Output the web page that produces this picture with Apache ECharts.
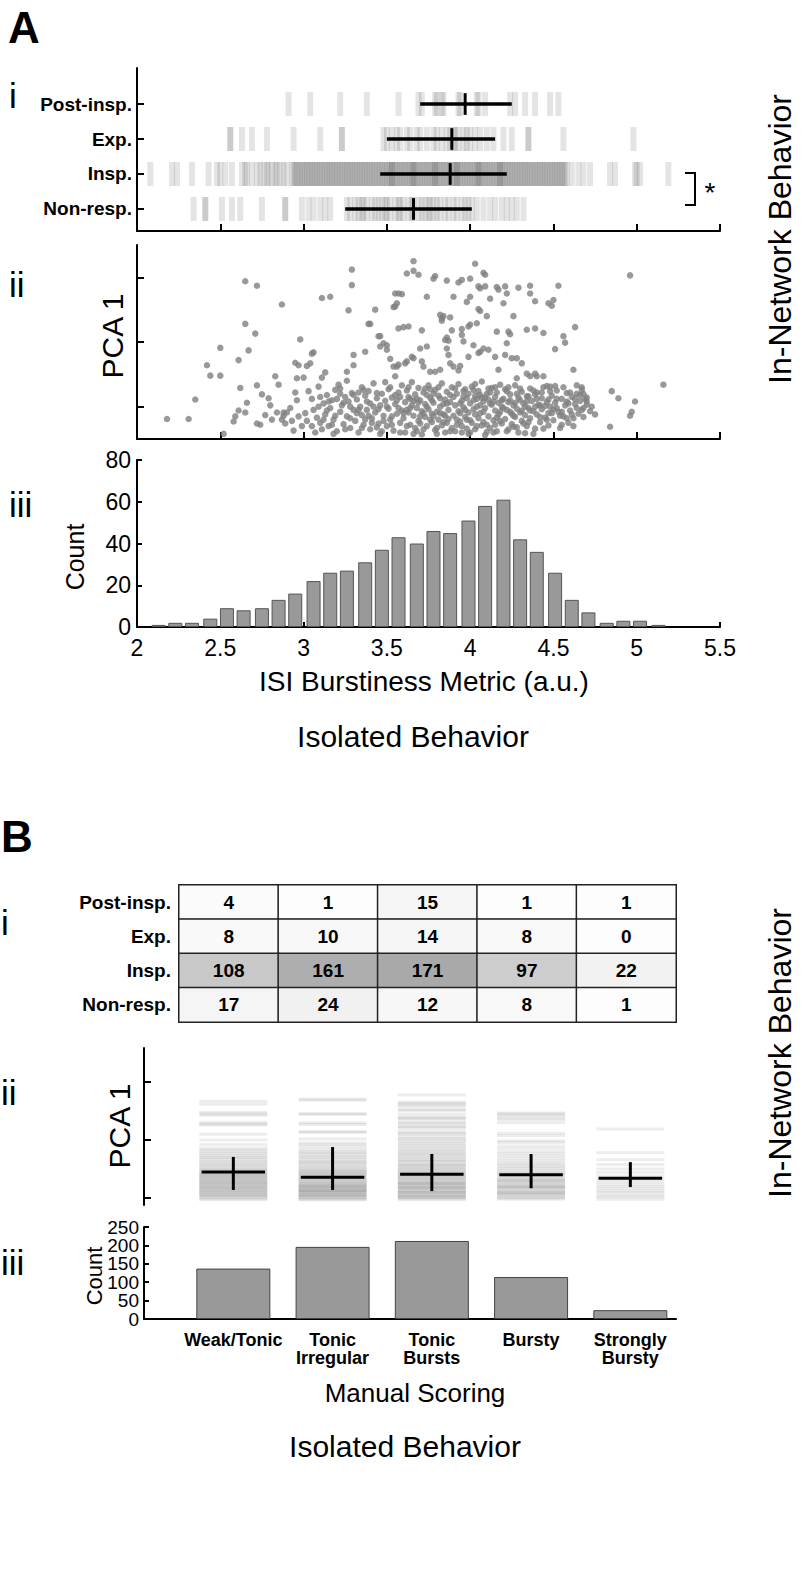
<!DOCTYPE html>
<html><head><meta charset="utf-8">
<script src="https://cdn.jsdelivr.net/npm/echarts@6.0.0/dist/echarts.min.js"></script>
<style>html,body{margin:0;padding:0;background:#fff}#c{width:802px;height:1588px}</style>
</head><body><div id="c"></div>
<script>
// ================= DATA =================
const rasterRows = ['Post-insp.', 'Exp.', 'Insp.', 'Non-resp.'];
const postInsp = [2.91,3.04,3.22,3.38,3.57,3.69,3.71,3.79,3.80,3.83,3.84,3.93,3.94,4.04,4.05,4.09,4.24,4.27,4.33,4.39,4.48,4.53];
const expir = [2.56,2.56,2.63,2.69,2.78,2.94,3.10,3.23,3.23,3.48,3.50,3.53,3.56,3.58,3.62,3.64,3.68,3.70,3.74,3.78,3.80,3.83,3.86,3.88,3.90,3.91,3.93,3.96,3.98,4.00,4.03,4.06,4.10,4.14,4.20,4.25,4.35,4.35,4.56,4.98];
const insp = [2.08,2.21,2.24,2.33,2.43,2.48,2.50,2.53,2.57,2.63,2.66,2.69,2.72,2.74,2.76,2.79,2.81,2.83,2.86,2.88,2.90,
2.93,2.95,2.96,2.98,3.00,3.01,3.03,3.05,3.06,3.08,3.09,3.11,3.13,3.14,3.16,3.18,3.19,3.21,3.22,3.24,3.26,3.27,3.29,3.30,3.32,3.34,3.35,3.37,3.38,3.40,3.41,3.43,3.45,3.46,3.48,3.49,3.51,3.52,3.54,3.56,3.57,3.59,3.60,3.62,3.63,3.65,3.66,3.68,3.70,3.71,3.73,3.74,3.76,3.77,3.79,3.80,3.82,3.84,3.85,3.87,3.88,3.90,3.91,3.93,3.94,3.96,3.98,3.99,4.01,4.02,4.04,4.05,4.07,4.08,4.10,4.12,4.13,4.15,4.16,4.18,4.19,4.21,4.23,4.24,4.26,4.27,4.29,4.31,4.32,4.34,4.35,4.37,4.39,4.40,4.42,4.44,4.45,4.47,4.49,4.50,4.52,4.54,4.56,4.58,4.61,4.65,4.68,4.72,4.84,4.87,4.99,5.00,5.02,5.19,
2.94,2.97,2.99,3.02,3.04,3.07,3.10,3.12,3.15,3.17,3.20,3.23,3.25,3.28,3.31,3.33,3.36,3.39,3.42,3.44,3.47,3.50,3.53,3.55,3.58,3.61,3.64,3.67,3.69,3.72,3.75,3.78,3.81,3.83,3.86,3.89,3.92,3.95,3.97,4.00,4.03,4.06,4.09,4.11,4.14,4.17,4.20,4.22,4.25,4.28,4.30,4.33,4.36,4.38,4.41,4.43,4.46,4.48,4.51,4.53,4.55,4.57,3.53,3.66,3.79,3.92,4.05,4.18,2.78,2.84,2.65];
const nonResp = [2.34,2.41,2.41,2.51,2.57,2.62,2.75,2.89,2.89,2.99,3.03,3.06,3.10,3.13,3.16,3.26,3.28,3.31,3.33,3.35,3.36,3.38,3.41,3.43,3.45,3.47,3.49,3.50,3.52,3.55,3.57,3.58,3.60,3.63,3.65,3.66,3.69,3.71,3.73,3.75,3.76,3.78,3.80,3.82,3.85,3.87,3.90,3.92,3.95,3.97,3.99,4.01,4.04,4.08,4.12,4.15,4.19,4.22,4.25,4.28,4.32];
const rowLo  = [3.70, 3.50, 3.46, 3.25];
const rowMid = [3.97, 3.89, 3.88, 3.66];
const rowHi  = [4.25, 4.15, 4.22, 4.01];

const pcaScatter = [
[2.42,0.64],[2.44,0.48],[2.50,0.91],[2.50,0.48],[2.61,0.72],[2.65,1.94],[2.65,1.28],[2.67,0.87],[2.72,1.87],[2.71,1.13],[2.83,0.47],[2.87,1.58],[2.95,0.68],[2.96,0.44],[2.97,0.64],[2.98,1.04],[3.00,0.45],[3.02,0.63],[3.04,0.67],[3.05,0.82],[3.06,0.84],[3.11,1.68],[3.16,1.70],[3.11,0.45],[3.13,0.53],[3.27,1.49],[3.29,2.12],[3.29,1.88],[3.30,0.80],[3.30,0.64],[3.26,0.54],[3.37,0.85],[3.39,1.28],[3.40,1.28],[3.43,1.50],[3.45,1.09],[3.46,0.93],[3.50,0.95],[3.52,0.74],[3.54,1.54],[3.55,1.75],[3.56,0.62],[3.57,1.21],[3.55,0.47],
[3.66,2.25],[3.62,2.06],[3.66,2.10],[3.69,2.04],[3.78,1.98],[3.79,2.02],[3.86,1.95],[3.93,1.92],[3.95,1.96],[4.00,1.98],[4.03,2.21],[4.08,2.07],[4.09,2.04],[4.05,1.86],[4.06,1.83],[4.09,1.86],[4.16,1.85],[4.17,1.81],[4.21,1.86],[4.22,1.75],[4.29,1.84],[4.36,1.87],[4.36,1.75],[4.53,1.87],[3.57,1.75],[3.59,1.74],[3.55,1.55],[3.56,1.60],[3.74,1.70],[3.90,1.70],[3.98,1.62],[4.00,1.70],[4.05,1.51],[4.06,1.48],[4.12,1.67],[4.20,1.60],[4.39,1.63],[4.47,1.60],[4.50,1.65],[4.49,1.56],[4.26,1.40],[4.10,1.40],[3.82,1.42],[3.83,1.37],[3.84,1.40],[3.88,1.38],[3.83,1.33],[3.60,1.23],[3.63,1.24],[3.71,1.18],[3.89,1.18],[3.95,1.20],[3.99,1.24],[4.00,1.27],[4.04,1.29],[4.63,1.23],[4.16,1.16],[4.23,1.16],[4.24,1.12],[4.34,1.19],[4.39,1.21],[4.44,1.14],[3.86,1.07],[3.87,1.02],[4.51,0.89],[4.57,0.99],[4.96,2.03],[5.16,0.34],[4.85,0.24],[4.89,0.13],[4.99,0.08],[4.97,-0.08],[4.96,-0.14],[4.84,-0.31],[4.62,0.57],[4.64,0.33],[4.67,0.30],[4.68,0.20],[4.70,0.08],[4.69,0.12],[4.33,-0.41],
[3.46,1.09],[3.48,0.98],[3.50,0.88],[3.54,0.62],[3.57,0.65],[3.61,0.67],[3.62,0.70],[3.65,0.77],[3.66,0.75],[3.70,0.90],[3.74,0.93],[3.71,0.70],[3.72,0.62],[3.76,0.54],[3.79,0.54],[3.82,0.57],[3.85,1.03],[3.86,0.90],[3.87,0.80],[3.88,0.67],[3.90,0.62],[3.93,0.56],[3.94,0.63],[3.95,1.11],[3.96,1.01],[3.99,0.77],[4.02,0.95],[4.05,0.83],[4.06,0.85],[4.08,0.90],[4.11,0.88],[4.15,0.77],[4.17,0.57],[4.21,0.80],[4.22,0.98],[4.25,0.75],[4.28,0.75],[4.28,0.44],[4.31,0.67],[4.34,0.51],[4.36,0.47],[4.39,0.51],[4.40,0.47],[4.44,0.47],[4.46,0.32],[4.48,0.31],[4.56,1.09],
[2.58,-0.23],[2.59,-0.15],[2.61,-0.06],[2.62,0.29],[2.65,-0.09],[2.66,0.06],[2.72,0.33],[2.72,-0.26],[2.74,-0.28],[2.75,0.19],[2.77,-0.13],[2.79,0.13],[2.80,0.02],[2.81,-0.20],[2.84,-0.09],[2.85,0.34],[2.87,-0.20],[2.88,-0.09],[2.89,-0.26],[2.90,-0.09],[2.94,-0.37],[2.97,-0.15],[2.52,-0.42],[2.18,-0.19],[2.31,-0.19],[2.35,0.11],[2.88,-0.14],[2.92,-0.02],[2.93,-0.22],[2.96,0.10],[2.99,-0.30],[2.95,0.22],
[3.01,-0.10],[3.03,0.24],[3.06,-0.05],[3.07,-0.40],[3.08,-0.17],[3.09,0.31],[3.10,-0.25],[3.12,0.05],[3.13,-0.12],[3.14,0.18],[3.15,-0.30],[3.16,-0.02],[3.17,0.10],[3.18,-0.20],[3.19,0.26],[3.20,-0.38],[3.21,0.34],[3.22,-0.08],[3.23,0.02],[3.24,-0.27],[3.25,0.15],[3.26,-0.15],[3.27,0.08],[3.28,-0.33],[3.29,0.21],[3.30,-0.05],[3.05,0.12],[3.11,-0.35],[3.14,-0.06],[3.19,-0.14],[3.24,0.06],[3.28,-0.18],[3.02,-0.22],[3.09,0.00],[3.17,-0.28],[3.22,0.28],[3.26,0.40],
[3.31,-0.22],[3.32,0.11],[3.33,-0.40],[3.34,0.00],[3.35,0.30],[3.35,-0.13],[3.36,-0.28],[3.37,0.17],[3.38,-0.05],[3.39,0.24],[3.40,-0.35],[3.40,0.05],[3.41,-0.18],[3.42,0.36],[3.43,-0.09],[3.44,0.13],[3.45,-0.26],[3.46,0.02],[3.46,-0.42],[3.47,0.20],[3.48,-0.14],[3.49,0.09],[3.50,-0.30],[3.51,0.27],[3.51,-0.03],[3.52,-0.20],[3.53,0.14],[3.54,-0.37],[3.55,0.04],[3.56,-0.11],[3.57,0.22],[3.58,-0.25],[3.59,0.33],[3.59,-0.06],[3.33,0.22],[3.37,-0.20],[3.44,-0.32],[3.49,0.38],[3.53,-0.15],[3.56,0.10],[3.32,-0.10],[3.42,0.00],[3.48,-0.22],[3.58,0.15],
[3.60,-0.18],[3.61,0.07],[3.61,-0.40],[3.62,0.25],[3.63,-0.09],[3.63,0.15],[3.64,-0.28],[3.65,0.02],[3.65,0.38],[3.66,-0.14],[3.67,0.19],[3.67,-0.33],[3.68,-0.02],[3.69,0.29],[3.69,-0.22],[3.70,0.10],[3.71,-0.07],[3.71,-0.43],[3.72,0.22],[3.73,-0.16],[3.73,0.04],[3.74,-0.30],[3.75,0.33],[3.75,-0.04],[3.76,0.14],[3.77,-0.24],[3.77,-0.11],[3.78,0.06],[3.79,0.26],[3.79,-0.36],[3.80,-0.08],[3.81,0.17],[3.81,-0.20],[3.82,0.00],[3.83,0.36],[3.83,-0.29],[3.84,-0.12],[3.85,0.11],[3.85,-0.40],[3.86,0.23],[3.87,-0.05],[3.87,-0.19],[3.88,0.07],[3.89,-0.33],[3.89,0.30],[3.62,-0.05],[3.66,0.09],[3.70,-0.26],[3.74,0.18],[3.78,-0.15],[3.82,0.13],[3.86,-0.25],[3.64,0.12],[3.68,-0.38],[3.72,-0.10],[3.76,0.27],[3.80,-0.33],[3.84,0.04],[3.88,0.18],
[3.90,-0.14],[3.91,0.02],[3.91,-0.38],[3.92,0.20],[3.93,-0.07],[3.93,0.35],[3.94,-0.23],[3.95,0.09],[3.95,-0.30],[3.96,-0.01],[3.97,0.27],[3.97,-0.16],[3.98,0.13],[3.99,-0.42],[3.99,-0.09],[4.00,0.05],[4.01,0.31],[4.01,-0.25],[4.02,-0.04],[4.03,0.17],[4.03,-0.35],[4.04,0.00],[4.05,-0.18],[4.05,0.24],[4.06,-0.10],[4.07,0.39],[4.07,-0.29],[4.08,0.08],[4.09,-0.02],[4.09,-0.44],[4.10,0.20],[4.11,-0.15],[4.11,0.11],[4.12,-0.33],[4.13,0.03],[4.13,0.29],[4.14,-0.21],[4.15,-0.06],[4.15,0.15],[4.16,-0.38],[4.17,0.06],[4.17,-0.12],[4.18,0.34],[4.19,-0.26],[4.19,0.00],[3.92,-0.20],[3.96,0.16],[4.00,-0.21],[4.04,0.12],[4.08,-0.24],[4.12,0.22],[4.16,-0.17],[3.94,0.05],[3.98,-0.34],[4.02,0.26],[4.06,0.02],[4.10,-0.39],[4.14,0.08],[4.18,-0.08],[3.97,-0.05],[4.03,-0.12],[4.09,0.14],[4.15,-0.28],
[4.20,0.12],[4.21,-0.19],[4.21,0.27],[4.22,-0.05],[4.23,-0.35],[4.23,0.07],[4.24,0.19],[4.25,-0.11],[4.25,-0.27],[4.26,0.02],[4.27,0.33],[4.27,-0.16],[4.28,-0.03],[4.29,0.14],[4.29,-0.40],[4.30,-0.09],[4.31,0.23],[4.31,-0.22],[4.32,0.05],[4.33,-0.13],[4.34,0.16],[4.34,-0.30],[4.35,-0.02],[4.36,0.28],[4.36,-0.18],[4.37,0.09],[4.38,-0.07],[4.39,-0.34],[4.39,0.19],[4.40,-0.12],[4.41,0.03],[4.42,-0.24],[4.43,0.13],[4.43,-0.04],[4.44,0.30],[4.45,-0.17],[4.46,0.07],[4.47,-0.29],[4.48,0.00],[4.49,0.17],[4.49,-0.10],[4.22,0.24],[4.26,-0.31],[4.30,0.10],[4.35,-0.24],[4.40,0.22],[4.45,0.01],[4.24,-0.08],[4.28,0.20],[4.33,0.00],[4.38,0.25],[4.42,-0.16],[4.47,0.11],
[4.50,-0.21],[4.51,0.06],[4.52,0.25],[4.53,-0.08],[4.54,-0.33],[4.55,0.12],[4.56,-0.15],[4.57,0.02],[4.58,0.21],[4.59,-0.25],[4.60,-0.06],[4.61,0.15],[4.62,-0.18],[4.63,0.04],[4.65,-0.11],[4.66,0.09],[4.68,-0.02],[4.70,0.03],[4.72,-0.07],[4.52,-0.02],[4.55,-0.28],[4.58,0.08],[4.61,-0.12],[4.64,0.20],[4.67,-0.05],
[3.35,-0.33],[3.38,0.08],[3.41,-0.25],[3.44,0.21],[3.47,-0.38],[3.50,0.00],[3.53,-0.28],[3.55,0.18],[3.58,-0.40],[3.60,-0.10],[3.62,-0.30],[3.64,-0.02],[3.66,-0.42],[3.68,0.12],[3.70,-0.15],[3.72,-0.35],[3.74,0.00],[3.76,-0.20],[3.78,0.20],[3.80,-0.42],[3.82,-0.10],[3.84,-0.24],[3.86,0.05],[3.88,-0.38],[3.90,0.15],[3.92,-0.28],[3.94,-0.10],[3.96,0.24],[3.98,-0.20],[4.00,-0.40],[4.02,0.10],[4.04,-0.30],[4.06,0.18],[4.08,-0.08],[4.10,-0.28],[4.12,0.05],[4.14,-0.40],[4.16,0.22],[4.18,-0.22],[4.20,-0.02],[4.22,-0.38],[4.24,0.10],[4.26,-0.14],[4.28,-0.32],[4.30,0.28],[4.32,-0.26],[4.34,0.08],[4.36,-0.06],[4.38,-0.42],[4.40,0.12],[4.42,0.02],[4.44,-0.34],[4.46,-0.20],[4.48,0.24],[4.50,-0.04],[4.52,0.12],[4.54,-0.14],[4.56,0.30],[4.58,-0.18],[4.60,0.22],[4.62,-0.30],[4.64,-0.02],[4.66,0.18],[4.68,-0.16],[4.70,0.14],[4.73,0.00],[4.75,-0.12],[3.05,-0.30],[3.10,0.15],[3.15,0.08],[3.20,0.12],[3.25,-0.35],[3.30,0.18],[3.12,-0.20],[3.18,-0.42],[3.22,0.20],[3.28,0.00],[3.33,-0.05],[3.36,0.26],[3.39,-0.14],[3.45,-0.04],[3.52,0.30],[3.57,-0.02],[3.63,0.30],[3.69,0.06],[3.73,0.28],[3.77,0.10],[3.81,0.30],[3.85,-0.14],[3.91,0.28],[3.95,-0.40],[3.99,0.20],[4.03,0.35],[4.07,0.14],[4.11,0.28],[4.15,0.30],[4.19,0.10],[4.23,0.30],[4.27,0.06],[4.31,-0.06],[4.35,0.16],[4.39,0.00],[4.43,0.22],[4.47,-0.10],[4.51,0.32],[4.55,-0.08],[4.59,0.05],[4.63,0.12],[4.67,0.26]
];

const histBinCenters = [2.13,2.23,2.33,2.44,2.54,2.64,2.75,2.85,2.95,3.06,3.16,3.26,3.37,3.47,3.57,3.68,3.78,3.88,3.99,4.09,4.20,4.30,4.40,4.51,4.61,4.71,4.82,4.92,5.02,5.13];
const histCounts = [1,2,2,4,9,8,9,13,16,22,26,27,31,37,43,40,46,45,51,58,61,42,36,26,13,7,2,3,3,1];

const tableRows = ['Post-insp.', 'Exp.', 'Insp.', 'Non-resp.'];
const manualCats = ['Weak/Tonic', 'Tonic\nIrregular', 'Tonic\nBursts', 'Bursty', 'Strongly\nBursty'];
const tableVals = [
  [4, 1, 15, 1, 1],
  [8, 10, 14, 8, 0],
  [108, 161, 171, 97, 22],
  [17, 24, 12, 8, 1]
];
const manualCounts = [137, 196, 212, 114, 24];
const countTicks = [0, 50, 100, 150, 200, 250];
const countLabelsA = [0, 100, 200];
const countLabelsB = [50, 150, 250];

const pcaWeakTonic = [1.67,1.62,1.48,1.45,1.43,1.31,1.28,1.26,1.10,1.00,0.92,0.86,0.83,0.80,0.77,0.74,0.71,0.69,0.66,0.63,0.61,0.58,0.56,0.53,0.51,0.49,0.47,0.45,0.43,0.41,0.40,0.39,0.37,0.35,0.35,0.33,0.31,0.30,0.29,0.27,0.25,0.25,0.23,0.21,0.20,0.19,0.17,0.15,0.15,0.13,0.11,0.10,0.09,0.07,0.05,0.05,0.03,0.01,-0.01,-0.03];
const pcaTonicIrr = [1.71,1.69,1.46,1.44,1.30,1.27,1.15,1.13,1.02,0.95,0.92,0.88,0.84,0.80,0.78,0.75,0.72,0.70,0.67,0.64,0.62,0.60,0.57,0.55,0.52,0.50,0.48,0.46,0.45,0.43,0.41,0.40,0.38,0.36,0.35,0.33,0.31,0.30,0.28,0.26,0.25,0.24,0.22,0.20,0.19,0.18,0.16,0.14,0.13,0.12,0.10,0.09,0.07,0.06,0.04,0.03,0.01,0.00,-0.02,-0.03,0.21,0.15,0.11,0.05];
const pcaTonicBursts = [1.78,1.66,1.63,1.61,1.58,1.53,1.51,1.45,1.40,1.38,1.36,1.31,1.29,1.25,1.23,1.20,1.15,1.12,1.10,1.06,1.03,1.00,0.97,0.94,0.91,0.88,0.85,0.82,0.80,0.77,0.75,0.72,0.70,0.67,0.65,0.63,0.60,0.58,0.56,0.54,0.52,0.50,0.48,0.46,0.44,0.42,0.41,0.39,0.37,0.36,0.34,0.32,0.31,0.29,0.27,0.26,0.24,0.22,0.21,0.19,0.17,0.16,0.14,0.12,0.11,0.09,0.07,0.06,0.04,0.02,0.01,-0.01,-0.03,0.25,0.18,0.10,0.03];
const pcaBursty = [1.47,1.45,1.42,1.38,1.35,1.30,1.12,1.08,0.99,0.96,0.90,0.85,0.80,0.76,0.72,0.68,0.64,0.60,0.57,0.54,0.51,0.48,0.45,0.43,0.40,0.38,0.35,0.33,0.31,0.28,0.26,0.24,0.22,0.20,0.18,0.16,0.14,0.12,0.10,0.08,0.06,0.04,0.02,0.00,-0.02,0.30,0.19,0.09];
const pcaStrongly = [1.19,0.78,0.66,0.58,0.50,0.44,0.38,0.33,0.28,0.24,0.20,0.16,0.12,0.09,0.05,0.02,-0.02];
const manualMid = [0.45, 0.36, 0.41, 0.40, 0.34];
const manualLo  = [0.14, 0.14, 0.12, 0.17, 0.19];
const manualHi  = [0.71, 0.88, 0.76, 0.76, 0.62];

// ================= CHART =================
const F = '"Liberation Sans", Arial, Helvetica, sans-serif';
const chart = echarts.init(document.getElementById('c'), null, {renderer: 'svg', width: 802, height: 1588});

const AX = {lineStyle: {color: '#000', width: 2}, onZero: false};
const rasterSets = [postInsp, expir, insp, nonResp];
const rasterData = [];
rasterSets.forEach((arr, i) => arr.forEach(v => rasterData.push([v, 3 - i])));
const meanData = rowMid.map((m, i) => [3 - i, rowLo[i], m, rowHi[i]]);

const heatData = [];
tableVals.forEach((row, r) => row.forEach((v, c) => heatData.push([c, r, v])));

const bSets = [pcaWeakTonic, pcaTonicIrr, pcaTonicBursts, pcaBursty, pcaStrongly];
const bLineData = [];
bSets.forEach((arr, i) => arr.forEach(v => bLineData.push([i + 1, v])));
const bCross = manualMid.map((m, i) => [i + 1, manualLo[i], m, manualHi[i]]);

function T(text, x, y, size, o) {
  o = o || {};
  return {type: 'text', x: x, y: y, rotation: o.rot || 0, silent: true, z: 100,
    style: {text: text, fontSize: size, fontFamily: F, fontWeight: o.bold ? 'bold' : 'normal', fill: '#000',
      textAlign: o.align || 'center', textVerticalAlign: 'middle', align: o.align || 'center', verticalAlign: 'middle'}};
}
const yLine = {show: true, lineStyle: {color: '#000', width: 2}};
const countLabelStyle = {fontSize: 19, fontFamily: F, color: '#000', margin: 5, showMinLabel: true, showMaxLabel: true, hideOverlap: false};

const option = {
  backgroundColor: '#fff',
  animation: false,
  grid: [
    {left: 137, top: 68, width: 583, height: 163},
    {left: 137, top: 245, width: 583, height: 194},
    {left: 137, top: 460, width: 583, height: 167},
    {left: 179, top: 885, width: 497, height: 137, show: true, borderColor: '#000', borderWidth: 2, backgroundColor: 'transparent'},
    {left: 144, top: 1048, width: 532, height: 157},
    {left: 144, top: 1227, width: 532, height: 92}
  ],
  xAxis: [
    {gridIndex: 0, type: 'value', min: 2, max: 5.5, interval: 0.5, axisLine: AX,
      axisTick: {inside: true, length: 7, lineStyle: {color: '#000', width: 2}}, axisLabel: {show: false}, splitLine: {show: false}},
    {gridIndex: 1, type: 'value', min: 2, max: 5.5, interval: 0.5, axisLine: AX,
      axisTick: {inside: true, length: 7, lineStyle: {color: '#000', width: 2}}, axisLabel: {show: false}, splitLine: {show: false}},
    {gridIndex: 2, type: 'value', min: 2, max: 5.5, interval: 0.5, axisLine: AX,
      axisTick: {inside: true, length: 5, lineStyle: {color: '#000', width: 2}},
      axisLabel: {fontSize: 23, fontFamily: F, color: '#000', margin: 9, showMinLabel: true, showMaxLabel: true}, splitLine: {show: false}},
    {gridIndex: 3, type: 'category', data: manualCats, show: false},
    {gridIndex: 4, type: 'value', min: 0.1, max: 5.46, show: false},
    {gridIndex: 5, type: 'value', min: 0.1, max: 5.46, axisLine: AX, axisTick: {show: false}, splitLine: {show: false},
      axisLabel: {customValues: [1, 2, 3, 4, 5], formatter: v => manualCats[Math.round(v) - 1],
        fontSize: 18, fontWeight: 'bold', fontFamily: F, color: '#000', lineHeight: 18, margin: 12}}
  ],
  yAxis: [
    {gridIndex: 0, type: 'value', min: -0.63, max: 4.03, axisLine: yLine, splitLine: {show: false},
      axisTick: {show: true, inside: true, length: 7, customValues: [0, 1, 2, 3], lineStyle: {color: '#000', width: 2}},
      axisLabel: {customValues: [0, 1, 2, 3], formatter: v => rasterRows[3 - Math.round(v)],
        fontSize: 19, fontWeight: 'bold', fontFamily: F, color: '#000', margin: 5}},
    {gridIndex: 1, type: 'value', min: -0.5, max: 2.5, axisLine: yLine, splitLine: {show: false},
      axisTick: {show: true, inside: true, length: 7, customValues: [0, 1, 2], lineStyle: {color: '#000', width: 2}},
      axisLabel: {show: false}},
    {gridIndex: 2, type: 'value', min: 0, max: 80, interval: 20, axisLine: yLine, splitLine: {show: false},
      axisTick: {show: true, inside: true, length: 5, lineStyle: {color: '#000', width: 2}},
      axisLabel: {fontSize: 23, fontFamily: F, color: '#000', margin: 6, showMinLabel: true, showMaxLabel: true}},
    {gridIndex: 3, type: 'category', data: tableRows, inverse: true, axisLine: {show: false}, axisTick: {show: false},
      axisLabel: {fontSize: 19, fontWeight: 'bold', fontFamily: F, color: '#000', margin: 8}},
    {gridIndex: 4, type: 'value', min: -0.12, max: 2.59, axisLine: yLine, splitLine: {show: false},
      axisTick: {show: true, inside: true, length: 7, customValues: [0, 1, 2], lineStyle: {color: '#000', width: 2}},
      axisLabel: {show: false}},
    {gridIndex: 5, type: 'value', min: 0, max: 250, interval: 50, position: 'left', axisLine: yLine, splitLine: {show: false},
      axisTick: {show: true, inside: true, length: 5, customValues: countTicks, lineStyle: {color: '#000', width: 2}},
      axisLabel: Object.assign({customValues: countLabelsA}, countLabelStyle)},
    {gridIndex: 5, type: 'value', min: 0, max: 250, interval: 50, position: 'left', offset: 0,
      axisLine: {show: false}, axisTick: {show: false}, splitLine: {show: false},
      axisLabel: Object.assign({customValues: countLabelsB}, countLabelStyle)}
  ],
  visualMap: [{show: false, type: 'continuous', min: 0, max: 171, seriesIndex: 4, inRange: {color: ['#fdfdfd', '#a9a9a9']}}],
  series: [
    {type: 'scatter', xAxisIndex: 0, yAxisIndex: 0, data: rasterData, symbol: 'rect', symbolSize: [6, 24],
      itemStyle: {color: 'rgba(0,0,0,0.13)'}, silent: true, z: 2},
    {type: 'custom', xAxisIndex: 0, yAxisIndex: 0, data: meanData, silent: true, z: 5,
      renderItem: function (params, api) {
        const y = api.value(0), lo = api.value(1), m = api.value(2), hi = api.value(3);
        const a = api.coord([lo, y]), b = api.coord([hi, y]), c = api.coord([m, y + 0.31]), d = api.coord([m, y - 0.31]);
        return {type: 'group', children: [
          {type: 'line', shape: {x1: a[0], y1: a[1], x2: b[0], y2: b[1]}, style: {stroke: '#000', lineWidth: 3.5}},
          {type: 'line', shape: {x1: c[0], y1: c[1], x2: d[0], y2: d[1]}, style: {stroke: '#000', lineWidth: 3}}
        ]};
      }},
    {type: 'scatter', xAxisIndex: 1, yAxisIndex: 1, data: pcaScatter, symbolSize: 6.5,
      itemStyle: {color: '#7f7f7f'}, silent: true},
    {type: 'bar', xAxisIndex: 2, yAxisIndex: 2, data: histBinCenters.map((x, i) => [x, histCounts[i]]), barWidth: 14,
      itemStyle: {color: '#999999', borderColor: '#555', borderWidth: 1}, silent: true},
    {type: 'heatmap', xAxisIndex: 3, yAxisIndex: 3, data: heatData,
      label: {show: true, fontSize: 19, fontWeight: 'bold', fontFamily: F, color: '#000'},
      itemStyle: {borderColor: '#222', borderWidth: 1.5}, silent: true},
    {type: 'scatter', xAxisIndex: 4, yAxisIndex: 4, data: bLineData, symbol: 'rect', symbolSize: [68, 3],
      itemStyle: {color: 'rgba(0,0,0,0.09)'}, silent: true, z: 2},
    {type: 'custom', xAxisIndex: 4, yAxisIndex: 4, data: bCross, silent: true, z: 5,
      renderItem: function (params, api) {
        const x = api.value(0), lo = api.value(1), m = api.value(2), hi = api.value(3);
        const a = api.coord([x - 0.32, m]), b = api.coord([x + 0.32, m]), c = api.coord([x, hi]), d = api.coord([x, lo]);
        return {type: 'group', children: [
          {type: 'line', shape: {x1: a[0], y1: a[1], x2: b[0], y2: b[1]}, style: {stroke: '#000', lineWidth: 3}},
          {type: 'line', shape: {x1: c[0], y1: c[1], x2: d[0], y2: d[1]}, style: {stroke: '#000', lineWidth: 3}}
        ]};
      }},
    {type: 'bar', xAxisIndex: 5, yAxisIndex: 5, data: manualCounts.map((v, i) => [i + 1, v]), barWidth: 74,
      itemStyle: {color: '#999999', borderColor: '#444', borderWidth: 1}, silent: true}
  ],
  graphic: [
    T('A', 8, 27, 44, {bold: true, align: 'left'}),
    T('B', 1, 836, 44, {bold: true, align: 'left'}),
    T('i', 9, 95, 35, {align: 'left'}),
    T('ii', 9, 284, 35, {align: 'left'}),
    T('iii', 9, 504, 35, {align: 'left'}),
    T('i', 1, 922, 35, {align: 'left'}),
    T('ii', 1, 1092, 35, {align: 'left'}),
    T('iii', 1, 1262, 35, {align: 'left'}),
    T('PCA 1', 112, 336, 30, {rot: Math.PI / 2}),
    T('PCA 1', 119, 1126, 30, {rot: Math.PI / 2}),
    T('Count', 75, 557, 25, {rot: Math.PI / 2}),
    T('Count', 94, 1276, 22, {rot: Math.PI / 2}),
    T('ISI Burstiness Metric (a.u.)', 424, 681, 28),
    T('Isolated Behavior', 413, 736, 30),
    T('In-Network Behavior', 780, 239, 32, {rot: Math.PI / 2}),
    T('In-Network Behavior', 780, 1053, 32, {rot: Math.PI / 2}),
    T('Manual Scoring', 415, 1393, 26),
    T('Isolated Behavior', 405, 1446, 30),
    T('*', 710, 192, 28),
    {type: 'polyline', silent: true, shape: {points: [[685, 173], [695, 173], [695, 205], [685, 205]]},
      style: {stroke: '#000', lineWidth: 2, fill: 'none'}}
  ]
};
chart.setOption(option);
</script></body></html>
